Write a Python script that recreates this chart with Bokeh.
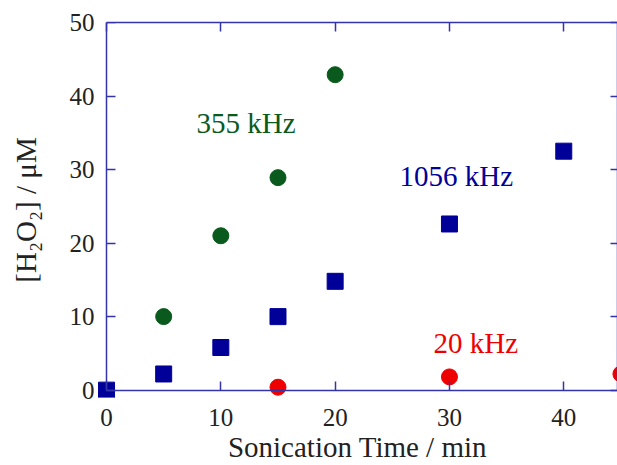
from bokeh.plotting import figure
from bokeh.models import LinearAxis, Range1d, FixedTicker, Label
from bokeh.embed import file_html
from bokeh.resources import INLINE

# Data
t_355 = [5, 10, 15, 20]
h2o2_355 = [10.0, 21.0, 28.9, 42.9]
t_1056 = [0, 5, 10, 15, 20, 30, 40]
h2o2_1056 = [0.0, 2.2, 5.8, 10.0, 14.8, 22.6, 32.5]
t_20 = [15, 30, 45]
h2o2_20 = [0.4, 1.8, 2.2]
x_ticks = [0, 10, 20, 30, 40]
y_ticks = [0, 10, 20, 30, 40, 50]
series_names = ["355 kHz", "1056 kHz", "20 kHz"]
x_title = "Sonication Time / min"
y_title = "[H\u2082O\u2082] / \u03bcM"

GREEN = "#0a5a1e"
BLUE = "#000099"
RED = "#ee0000"
AX = "#3434aa"
FONT = "Liberation Serif"

X0, X1 = -0.79, 44.7
Y0, Y1 = -1.0, 50

p = figure(width=617, height=465, output_backend="svg", toolbar_location=None,
           x_range=Range1d(X0, X1), y_range=Range1d(Y0, Y1),
           min_border_left=97, min_border_right=0, min_border_top=22,
           min_border_bottom=68, x_axis_label=x_title, y_axis_label=y_title)
p.outline_line_color = None
p.grid.visible = False
p.background_fill_color = "white"
p.border_fill_color = "white"

def style(ax, ticks, show_labels=True, show_line=True):
    ax.ticker = FixedTicker(ticks=ticks)
    ax.minor_tick_line_color = None
    ax.axis_line_color = AX if show_line else None
    ax.axis_line_width = 1.5
    ax.major_tick_line_color = AX if show_line else None
    ax.major_tick_line_width = 1.5
    ax.major_tick_in = 9
    ax.major_tick_out = 0
    ax.major_label_text_font = FONT
    ax.major_label_text_font_size = "25px"
    ax.major_label_text_color = "#222222"
    ax.axis_label_text_font = FONT
    ax.axis_label_text_font_size = "29px"
    ax.axis_label_text_font_style = "normal"
    ax.axis_label_text_color = "#222222"
    if not show_labels:
        ax.major_label_overrides = {t: "" for t in ticks}
        ax.major_label_standoff = 0

# label-only axes at the frame edges
xa = p.xaxis[0]
ya = p.yaxis[0]
style(xa, x_ticks, True, False)
style(ya, y_ticks, True, False)
xa.major_label_standoff = 11
xa.axis_label_standoff = 2
ya.major_label_standoff = 3
ya.axis_label_standoff = 25

# spine axes drawn at data zero
xs = LinearAxis(fixed_location=0)
style(xs, x_ticks, False)
xs.bounds = (0, X1)
p.add_layout(xs, "below")
ys = LinearAxis(fixed_location=0)
style(ys, y_ticks, False)
ys.bounds = (0, Y1)
p.add_layout(ys, "left")

top = LinearAxis()
style(top, x_ticks, False)
top.bounds = (0, X1)
p.add_layout(top, "above")
right = LinearAxis()
style(right, y_ticks, False)
right.bounds = (0, Y1)
right.major_tick_in = 7
p.add_layout(right, "right")

p.scatter(t_355, h2o2_355, marker="circle", size=16, color=GREEN)
p.scatter(t_1056, h2o2_1056, marker="square", size=16, color=BLUE)
p.scatter(t_20, h2o2_20, marker="circle", size=16, color=RED)

lab_kw = dict(text_font=FONT, text_font_size="29px", text_align="center",
              text_baseline="middle")
p.add_layout(Label(x=12.2, y=36.3, text=series_names[0], text_color=GREEN, **lab_kw))
p.add_layout(Label(x=30.6, y=29.1, text=series_names[1], text_color=BLUE, **lab_kw))
p.add_layout(Label(x=32.3, y=6.4, text=series_names[2], text_color=RED, **lab_kw))

open("out.html", "w").write(file_html(p, INLINE))
